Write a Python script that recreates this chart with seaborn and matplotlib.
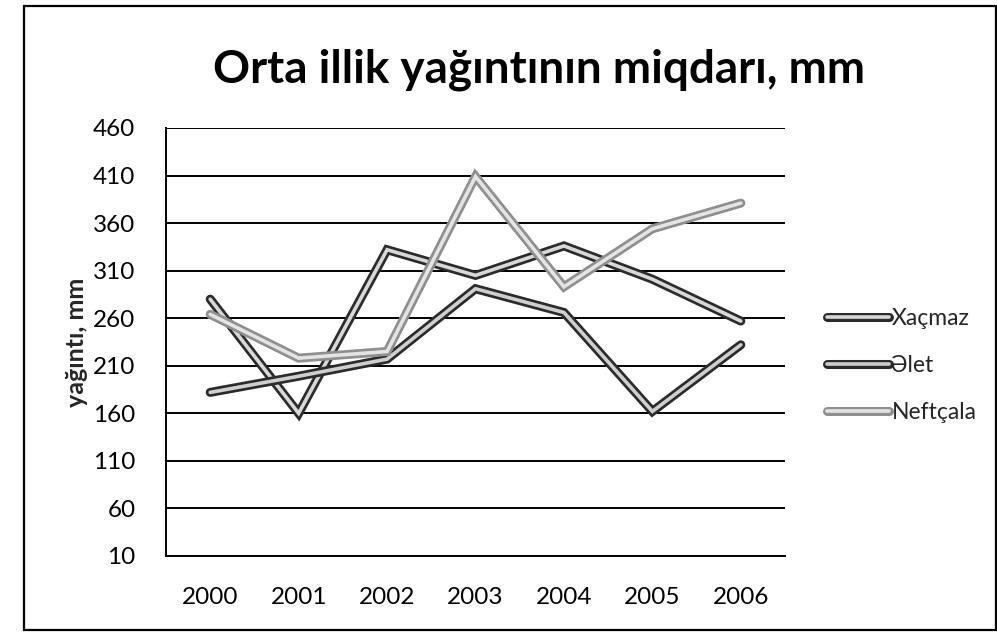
import numpy as np
import pandas as pd
import matplotlib
matplotlib.use("Agg")
import matplotlib.pyplot as plt
import matplotlib.patheffects as pe
from matplotlib.patches import Rectangle
import seaborn as sns

# data ==================================================================
years = [2000, 2001, 2002, 2003, 2004, 2005, 2006]
xacmaz = [280, 160, 332, 305, 336, 301, 257]
alat = [182, 199, 217, 291, 266, 162, 232]
neftcala = [264, 218, 225, 409, 293, 354, 381]
series_names = ["Xaçmaz", "Əlet", "Neftçala"]
y_ticks = [10, 60, 110, 160, 210, 260, 310, 360, 410, 460]

df = pd.DataFrame({
    "il": years * 3,
    "yağıntı": xacmaz + alat + neftcala,
    "stansiya": np.repeat(series_names, len(years)),
})

sns.set_theme(style="white")
plt.rcParams["font.family"] = ["Lato", "DejaVu Sans"]

fig = plt.figure(figsize=(9.97, 6.32), dpi=100)
ax = fig.add_axes([0.1665, 0.1203, 0.6209, 0.6772])

#### line styles: dark outline with a light core
styles = {
    "Xaçmaz": ("#2b2b2b", "#d8d8d8"),
    "Əlet": ("#2b2b2b", "#cfcfcf"),
    "Neftçala": ("#8f8f8f", "#e4e4e4"),
}
for name in series_names:
    outer, inner = styles[name]
    sub = df[df["stansiya"] == name]
    sns.lineplot(data=sub, x="il", y="yağıntı", ax=ax, color=inner, linewidth=2.6,
                 label=name, solid_capstyle="round", solid_joinstyle="miter",
                 path_effects=[pe.Stroke(linewidth=6.5, foreground=outer, capstyle="round"),
                               pe.Normal()])

#### axes settings
ax.set_xlim(1999.5, 2006.5)
ax.set_ylim(10, 460)
ax.set_xticks(years)
ax.set_xticklabels([str(y) for y in years])
ax.set_yticks(y_ticks)
ax.grid(axis="y", color="black", linewidth=1.4)
ax.set_axisbelow(True)
ax.spines["top"].set_visible(False)
ax.spines["right"].set_visible(False)
ax.spines["left"].set_color("black")
ax.spines["bottom"].set_color("black")
ax.spines["left"].set_linewidth(1.4)
ax.spines["bottom"].set_linewidth(1.4)
ax.tick_params(axis="both", length=0, labelsize=17.5, colors="black")
ax.tick_params(axis="x", pad=22)
ax.tick_params(axis="y", pad=22)
ax.set_xlabel("")
ax.set_ylabel("yağıntı, mm", fontsize=18, fontweight="bold", labelpad=4)

fig.text(0.541, 0.89, "Orta illik yağıntının miqdarı, mm", ha="center", va="center",
         fontsize=33, fontweight="bold", color="black")

leg = ax.legend(loc="center left", bbox_to_anchor=(1.035, 0.445), frameon=False,
                fontsize=16.5, handlelength=2.7, handletextpad=0.1, labelspacing=1.15)

#### outer border
fig.patches.append(Rectangle((0.024, 0.003), 0.975, 0.987, transform=fig.transFigure,
                             fill=False, edgecolor="black", linewidth=1.6))

fig.savefig("out.png", dpi=100, facecolor="white")
